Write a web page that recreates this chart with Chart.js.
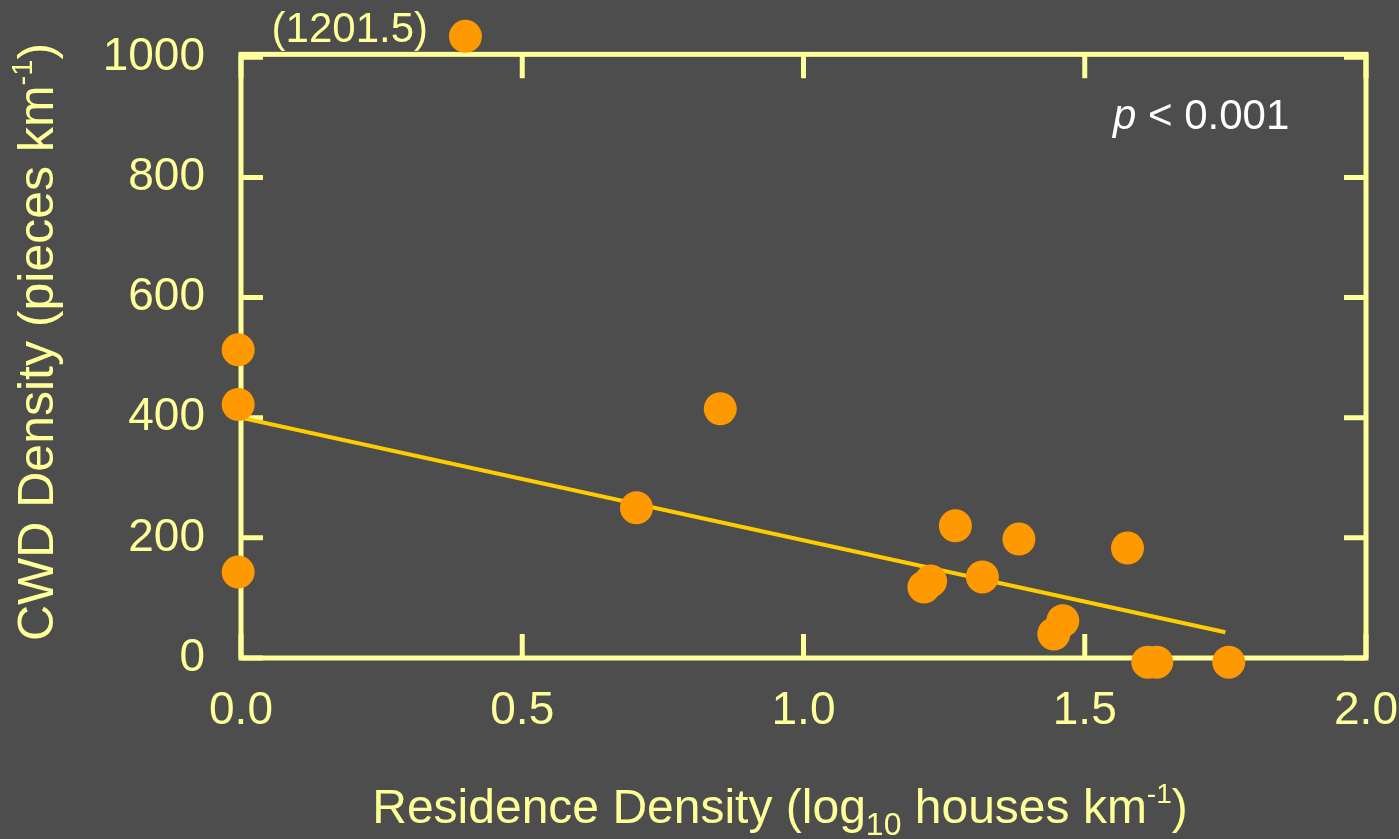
<!DOCTYPE html>
<html>
<head>
<meta charset="utf-8">
<script src="https://cdn.jsdelivr.net/npm/chart.js@4"></script>
<style>
  html, body { margin: 0; padding: 0; background: #4d4d4d; overflow: hidden; }
</style>
</head>
<body>
<canvas id="cwdChart" width="1399" height="839"></canvas>
<script>
// residence density (log10 houses/km) vs CWD density (pieces/km), listed by CWD
const residence = [0.399, -0.005, -0.005, 0.852, 0.703, 1.270, 1.383, 1.576, -0.005, 1.318, 1.226, 1.214, 1.461, 1.445, 1.612, 1.628, 1.756];
const cwd = [1035, 513, 422, 415, 250, 220, 198, 183, 143, 135, 128, 118, 62, 40, -7, -7, -7];
const fitX = [0, 1.75];
const fitY = [400, 43];
const xTicks = [0, 0.5, 1.0, 1.5, 2.0];
const yTicks = [0, 200, 400, 600, 800, 1000];
const frameTop = 1005;

const axisColor = '#ffff99';
const font = '"Liberation Sans", Arial, sans-serif';

function drawParts(ctx, parts, x, y) {
    let total = 0;
    parts.forEach(p => { ctx.font = p[1] + 'px ' + font; total += ctx.measureText(p[0]).width; });
    let cx = x - total / 2;
    parts.forEach(p => {
        ctx.font = p[1] + 'px ' + font;
        ctx.fillText(p[0], cx, y + p[2]);
        cx += ctx.measureText(p[0]).width;
    });
}

const frame = {
    id: 'frame',
    beforeDatasetsDraw(chart) {
        const { ctx, chartArea: a, scales: { x, y } } = chart;
        const top = y.getPixelForValue(frameTop);
        ctx.save();
        ctx.strokeStyle = axisColor;
        ctx.lineWidth = 5;
        ctx.strokeRect(a.left, top, a.right - a.left, a.bottom - top);
        xTicks.forEach(v => {
            const px = x.getPixelForValue(v);
            ctx.beginPath();
            ctx.moveTo(px, a.bottom); ctx.lineTo(px, a.bottom - 24);
            ctx.moveTo(px, top); ctx.lineTo(px, top + 24);
            ctx.stroke();
        });
        yTicks.forEach(v => {
            const py = y.getPixelForValue(v);
            ctx.beginPath();
            ctx.moveTo(a.left, py); ctx.lineTo(a.left + 22, py);
            ctx.moveTo(a.right, py); ctx.lineTo(a.right - 22, py);
            ctx.stroke();
        });
        ctx.restore();
    },
    afterDraw(chart) {
        const { ctx } = chart;
        ctx.save();
        ctx.fillStyle = axisColor;
        ctx.textBaseline = 'alphabetic';

        drawParts(ctx, [
            ['Residence Density (log', 48, 0],
            ['10', 32, 12],
            [' houses km', 48, 0],
            ['-1', 28, -20],
            [')', 48, 0]
        ], 780, 823);

        ctx.save();
        ctx.translate(53, 342);
        ctx.rotate(-Math.PI / 2);
        drawParts(ctx, [
            ['CWD Density (pieces km', 50, 0],
            ['-1', 29, -21],
            [')', 50, 0]
        ], 0, 0);
        ctx.restore();

        ctx.font = '42px ' + font;
        ctx.textAlign = 'right';
        ctx.fillText('(1201.5)', 428, 42);

        ctx.textAlign = 'left';
        ctx.fillStyle = '#ffffff';
        ctx.font = 'italic 42px ' + font;
        ctx.fillText('p', 1113, 129);
        const pw = ctx.measureText('p ').width;
        ctx.font = '42px ' + font;
        ctx.fillText('< 0.001', 1113 + pw, 129);
        ctx.restore();
    }
};

new Chart(document.getElementById('cwdChart'), {
    type: 'scatter',
    data: {
        datasets: [
            {
                type: 'line',
                data: fitX.map((v, i) => ({ x: v, y: fitY[i] })),
                borderColor: '#ffcc00',
                borderWidth: 4,
                pointRadius: 0,
                fill: false,
                order: 2
            },
            {
                data: residence.map((v, i) => ({ x: v, y: cwd[i] })),
                backgroundColor: '#ff9900',
                borderWidth: 0,
                pointRadius: 16.5,
                pointHoverRadius: 16.5,
                clip: false,
                order: 1
            }
        ]
    },
    options: {
        responsive: false,
        animation: false,
        layout: { padding: { top: 0, right: 33, left: 0, bottom: 0 } },
        plugins: { legend: { display: false }, tooltip: { enabled: false } },
        scales: {
            x: {
                type: 'linear',
                min: 0,
                max: 2,
                afterFit: s => { s.height = 181; s.paddingLeft = 0; s.paddingRight = 0; },
                afterBuildTicks: s => { s.ticks = xTicks.map(v => ({ value: v })); },
                grid: { display: false, drawTicks: false },
                border: { display: false },
                ticks: {
                    color: axisColor,
                    font: { size: 46, family: font },
                    padding: 26,
                    callback: v => v.toFixed(1)
                }
            },
            y: {
                min: 0,
                max: 1068,
                afterFit: s => { s.width = 241; s.paddingTop = 0; s.paddingBottom = 0; },
                afterBuildTicks: s => { s.ticks = yTicks.map(v => ({ value: v })); },
                grid: { display: false, drawTicks: false },
                border: { display: false },
                ticks: {
                    color: axisColor,
                    font: { size: 46, family: font },
                    padding: 36,
                    callback: v => String(v)
                }
            }
        }
    },
    plugins: [frame]
});
</script>
</body>
</html>
